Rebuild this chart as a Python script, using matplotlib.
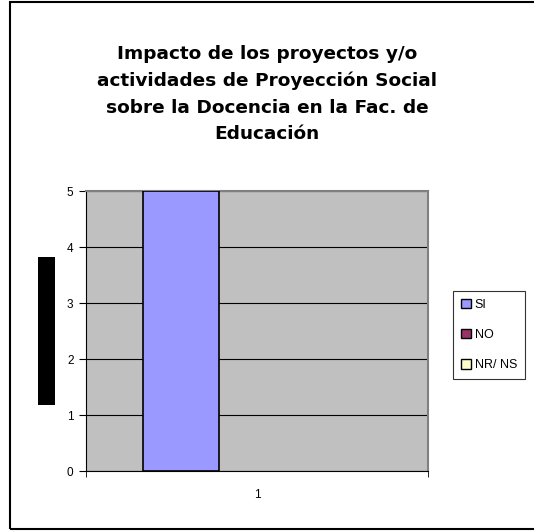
import matplotlib
matplotlib.use("Agg")
import matplotlib.pyplot as plt
from matplotlib.patches import Rectangle, Patch
import numpy as np

categories = ["1"]
series_names = ["SI", "NO", "NR/ NS"]
series_values = [[5], [0], [0]]
series_colors = ["#9999FF", "#993366", "#FFFFCC"]
title = "Impacto de los proyectos y/o\nactividades de Proyección Social\nsobre la Docencia en la Fac. de\nEducación"

plt.rcParams['font.family'] = ['Liberation Sans', 'DejaVu Sans']

W, H = 534, 531
fig = plt.figure(figsize=(W/100, H/100), dpi=100)

# outer chart border
fig.patches.append(Rectangle((10/W, 1 - 529/H), 600/W, (529-2)/H, transform=fig.transFigure,
                             fill=False, edgecolor='black', linewidth=1.5))

ax = fig.add_axes([86/W, 1 - 471/H, (428-86)/W, (471-191)/H])
ax.set_facecolor('#C0C0C0')

n = len(series_names)
bw = 1 / (n + 1.5)
x = np.arange(1, len(categories) + 1)
handles = []
for i, (name, vals, col) in enumerate(zip(series_names, series_values, series_colors)):
    off = (i - (n - 1) / 2) * bw
    lws = [1.2 if v > 0 else 0 for v in vals]
    ax.bar(x + off, vals, width=bw, color=col, edgecolor='black', linewidth=lws, zorder=3)
    handles.append(Patch(facecolor=col, edgecolor='black', linewidth=1.0, label=name))

ax.set_xlim(0.5, len(categories) + 0.5)
ax.set_ylim(0, 5)
ax.set_yticks(range(0, 6))
ax.set_xticks([1], categories)
ax.yaxis.grid(True, color='black', linewidth=0.8, zorder=1)
ax.set_axisbelow(True)
for s in ['top', 'right']:
    ax.spines[s].set_color('#808080')
    ax.spines[s].set_linewidth(1.5)
ax.spines['left'].set_color('black')
ax.spines['bottom'].set_color('black')
ax.tick_params(axis='y', length=5, direction='out', labelsize=8.5, pad=4)
ax.tick_params(axis='x', length=5, direction='out', labelsize=8.5, pad=13)
ax.set_xticks([0.5, 1.5], minor=True)
ax.tick_params(axis='x', which='major', length=0)
ax.tick_params(axis='x', which='minor', length=4)

# black block (y-axis title area)
fig.patches.append(Rectangle((38/W, 1 - 405/H), 17/W, (405-257)/H, transform=fig.transFigure,
                             facecolor='black', edgecolor='none'))

fig.text(267/W, 1 - 94/H, title, ha='center', va='center', fontsize=13.3, fontweight='bold',
         family=['DejaVu Sans'], linespacing=1.6)

leg = fig.legend(handles=handles, loc='upper left', bbox_to_anchor=(453/W, 1 - 291/H), fontsize=9,
                 frameon=True, fancybox=False, edgecolor='black', handlelength=0.75, handleheight=0.75,
                 handletextpad=0.35, labelspacing=1.45, borderpad=0.65, borderaxespad=0)
leg.get_frame().set_linewidth(0.8)

fig.savefig("out.png", dpi=100)
